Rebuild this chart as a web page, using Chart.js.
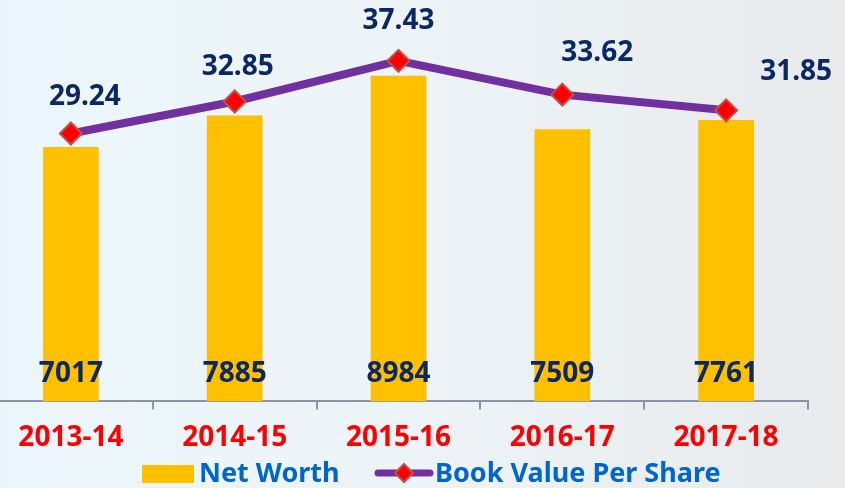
<!DOCTYPE html>
<html>
<head>
<meta charset="utf-8">
<script src="https://cdn.jsdelivr.net/npm/chart.js@4.4.1/dist/chart.umd.min.js"></script>
<style>
    html, body {
        margin: 0;
        padding: 0;
        width: 845px;
        height: 488px;
        overflow: hidden;
        background: linear-gradient(to right, #ebf6fc 0%, #edf4f8 45%, #e8eaec 100%);
    }
    #wrap {
        position: absolute;
        left: -24px;
        top: 0;
        width: 869px;
        height: 488px;
    }
</style>
</head>
<body>
<div id="wrap"><canvas id="grafico" width="869" height="488"></canvas></div>
<script>
const anos = ["2013-14", "2014-15", "2015-16", "2016-17", "2017-18"];
const netWorth = [7017, 7885, 8984, 7509, 7761];
const bookValue = [29.24, 32.85, 37.43, 33.62, 31.85];

// deslocamento dos rótulos da linha (px)
const offsetsLinha = [[14, -36], [3, -34], [0, -40], [35, -42], [70, -38]];

const fonte = "'Noto Sans', sans-serif";
const deslocCanvas = 24;

const rotulosPlugin = {
    id: "rotulos",
    afterDatasetsDraw(chart) {
        const ctx = chart.ctx;
        ctx.save();
        ctx.font = `bold 28px ${fonte}`;
        ctx.fillStyle = "#0b2764";
        ctx.textAlign = "center";
        ctx.textBaseline = "middle";

        const barras = chart.getDatasetMeta(1).data;
        barras.forEach((barra, i) => {
            ctx.fillText(String(netWorth[i]), barra.x, barra.base - 27);
        });

        const pontos = chart.getDatasetMeta(0).data;
        pontos.forEach((ponto, i) => {
            const [dx, dy] = offsetsLinha[i];
            ctx.fillText(bookValue[i].toFixed(2), ponto.x + dx, ponto.y + dy);
        });

        // legenda
        const ox = deslocCanvas;
        ctx.fillStyle = "#ffc000";
        ctx.fillRect(142 + ox, 465, 52, 18);

        ctx.strokeStyle = "#7030a0";
        ctx.lineWidth = 7;
        ctx.lineCap = "round";
        ctx.beginPath();
        ctx.moveTo(378 + ox, 473);
        ctx.lineTo(430 + ox, 473);
        ctx.stroke();

        ctx.fillStyle = "#ff0000";
        ctx.strokeStyle = "#c0504d";
        ctx.lineWidth = 2;
        ctx.beginPath();
        ctx.moveTo(404 + ox, 464);
        ctx.lineTo(413 + ox, 473);
        ctx.lineTo(404 + ox, 482);
        ctx.lineTo(395 + ox, 473);
        ctx.closePath();
        ctx.fill();
        ctx.stroke();

        ctx.font = `bold 27px ${fonte}`;
        ctx.fillStyle = "#0066cc";
        ctx.textAlign = "left";
        ctx.fillText("Net Worth", 199 + ox, 474);
        ctx.fillText("Book Value Per Share", 435 + ox, 474);
        ctx.restore();
    }
};

const canvas = document.getElementById("grafico");

new Chart(canvas, {
    type: "bar",
    data: {
        labels: anos,
        datasets: [
            {
                type: "line",
                label: "Book Value Per Share",
                data: bookValue,
                yAxisID: "y2",
                borderColor: "#7030a0",
                borderWidth: 8,
                tension: 0,
                pointStyle: "rectRot",
                pointRadius: 11,
                pointHoverRadius: 11,
                pointBackgroundColor: "#ff0000",
                pointBorderColor: "#c0504d",
                pointBorderWidth: 2,
                order: 1
            },
            {
                type: "bar",
                label: "Net Worth",
                data: netWorth,
                yAxisID: "y",
                backgroundColor: "#ffc000",
                categoryPercentage: 1,
                barPercentage: 0.34,
                order: 2
            }
        ]
    },
    options: {
        responsive: false,
        animation: false,
        maintainAspectRatio: false,
        layout: {
            padding: { left: 0, top: 0, right: 37, bottom: 21 }
        },
        scales: {
            x: {
                grid: {
                    offset: true,
                    drawOnChartArea: false,
                    tickLength: 8,
                    color: "#8b94a6",
                    lineWidth: 2
                },
                border: {
                    color: "#8b94a6",
                    width: 2
                },
                ticks: {
                    color: "#ff0000",
                    padding: 12,
                    autoSkip: false,
                    maxRotation: 0,
                    font: { family: fonte, size: 28, weight: "bold" }
                }
            },
            y: {
                display: false,
                min: 0,
                max: 10715
            },
            y2: {
                display: false,
                min: -0.95,
                max: 42.82
            }
        },
        plugins: {
            legend: { display: false },
            tooltip: { enabled: false }
        }
    },
    plugins: [rotulosPlugin]
});
</script>
</body>
</html>
